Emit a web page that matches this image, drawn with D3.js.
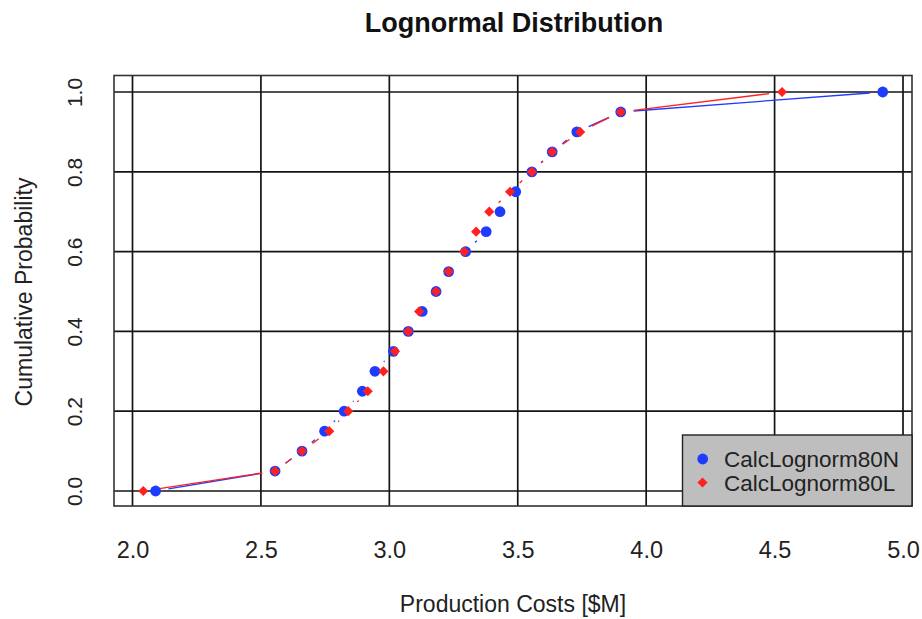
<!DOCTYPE html>
<html>
<head>
<meta charset="utf-8">
<script src="https://cdn.jsdelivr.net/npm/d3@7"></script>
<style>
  html, body { margin: 0; padding: 0; background: #fff; }
  svg { display: block; font-family: "Liberation Sans", Arial, Helvetica, sans-serif; }
</style>
</head>
<body>
<svg id="chart" width="922" height="619"></svg>
<script>
// ---- data ----
const probabilities = [0, 0.05, 0.10, 0.15, 0.20, 0.25, 0.30, 0.35, 0.40, 0.45, 0.50,
                       0.55, 0.60, 0.65, 0.70, 0.75, 0.80, 0.85, 0.90, 0.95, 1.00];
const costsN = [2.090, 2.555, 2.660, 2.748, 2.824, 2.895, 2.944, 3.016, 3.074, 3.128, 3.182,
                3.231, 3.297, 3.377, 3.431, 3.492, 3.555, 3.634, 3.730, 3.901, 4.921];
const costsL = [2.042, 2.555, 2.660, 2.766, 2.840, 2.916, 2.977, 3.022, 3.074, 3.116, 3.182,
                3.231, 3.292, 3.338, 3.389, 3.470, 3.555, 3.634, 3.743, 3.901, 4.529];
const seriesNames = ["CalcLognorm80N", "CalcLognorm80L"];
const xTicks = [2.0, 2.5, 3.0, 3.5, 4.0, 4.5, 5.0];
const yTicks = [0.0, 0.2, 0.4, 0.6, 0.8, 1.0];
const titleText = "Lognormal Distribution";
const xTitle = "Production Costs [$M]";
const yTitle = "Cumulative Probability";

// ---- layout ----
const svg = d3.select("#chart");
const box = { left: 114, right: 912, top: 75.5, bottom: 506 };
const x = d3.scaleLinear().domain([1.928, 5.035]).range([box.left, box.right]);
const y = d3.scaleLinear().domain([-0.0376, 1.0414]).range([box.bottom, box.top]);
const colN = "#1e3cff", colL = "#ff2020";
const gridCol = "#141414";

// grid
svg.append("g").selectAll("line.vx").data(xTicks).join("line")
  .attr("x1", d => x(d)).attr("x2", d => x(d))
  .attr("y1", box.top).attr("y2", box.bottom)
  .attr("stroke", gridCol).attr("stroke-width", 1.7);
svg.append("g").selectAll("line.hy").data(yTicks).join("line")
  .attr("y1", d => y(d)).attr("y2", d => y(d))
  .attr("x1", box.left).attr("x2", box.right)
  .attr("stroke", gridCol).attr("stroke-width", 1.7);

// frame
svg.append("rect").attr("x", box.left).attr("y", box.top)
  .attr("width", box.right - box.left).attr("height", box.bottom - box.top)
  .attr("fill", "none").attr("stroke", "#333").attr("stroke-width", 1.6);

// axes (labels only, R style)
const xAxis = d3.axisBottom(x).tickValues(xTicks).tickFormat(d3.format(".1f")).tickSize(0).tickPadding(0);
const gx = svg.append("g").attr("transform", `translate(0,${box.bottom})`).call(xAxis);
gx.select(".domain").remove();
gx.selectAll("text").attr("dy", null).attr("y", 51.7)
  .attr("font-size", 23.5).attr("fill", "#222").attr("font-family", null);

const yAxis = d3.axisLeft(y).tickValues(yTicks).tickFormat(d3.format(".1f")).tickSize(0).tickPadding(0);
const gy = svg.append("g").attr("transform", `translate(${box.left},0)`).call(yAxis);
gy.select(".domain").remove();
gy.selectAll(".tick text")
  .attr("x", null).attr("dy", null).attr("y", null)
  .attr("text-anchor", "middle")
  .attr("transform", `translate(${81.7 - box.left},0) rotate(-90)`)
  .attr("font-size", 21).attr("fill", "#222").attr("font-family", null);

// type "b" lines with gaps around points
const gap = 13;
function gappedSegments(xs) {
  const segs = [];
  for (let i = 0; i < xs.length - 1; i++) {
    const x0 = x(xs[i]), y0 = y(probabilities[i]);
    const x1 = x(xs[i + 1]), y1 = y(probabilities[i + 1]);
    const len = Math.hypot(x1 - x0, y1 - y0);
    if (len <= 2 * gap) continue;
    const ux = (x1 - x0) / len, uy = (y1 - y0) / len;
    segs.push([x0 + ux * gap, y0 + uy * gap, x1 - ux * gap, y1 - uy * gap]);
  }
  return segs;
}
function drawLines(xs, col) {
  svg.append("g").selectAll("line").data(gappedSegments(xs)).join("line")
    .attr("x1", d => d[0]).attr("y1", d => d[1])
    .attr("x2", d => d[2]).attr("y2", d => d[3])
    .attr("stroke", col).attr("stroke-width", 1.3);
}
drawLines(costsN, colN);
drawLines(costsL, colL);

// points
svg.append("g").selectAll("circle").data(costsN).join("circle")
  .attr("cx", d => x(d)).attr("cy", (d, i) => y(probabilities[i]))
  .attr("r", 5.4).attr("fill", colN);
const diamond = d3.symbol().type(d3.symbolDiamond2).size(66);
svg.append("g").selectAll("path").data(costsL).join("path")
  .attr("d", diamond)
  .attr("transform", (d, i) => `translate(${x(d)},${y(probabilities[i])})`)
  .attr("fill", colL);

// legend
const lg = svg.append("g");
lg.append("rect").attr("x", 682.5).attr("y", 435).attr("width", box.right - 682.5).attr("height", box.bottom - 435)
  .attr("fill", "#bebebe").attr("stroke", "#222").attr("stroke-width", 1.4);
lg.append("circle").attr("cx", 702.7).attr("cy", 459).attr("r", 5.4).attr("fill", colN);
lg.append("path").attr("d", diamond).attr("transform", "translate(702.5,482.5)").attr("fill", colL);
lg.selectAll("text").data(seriesNames).join("text")
  .attr("x", 724).attr("y", (d, i) => 466.7 + i * 24.3)
  .attr("font-size", 22.5).attr("fill", "#222").text(d => d);

// titles
svg.append("text").attr("x", 514).attr("y", 31.7).attr("text-anchor", "middle")
  .attr("font-size", 27).attr("font-weight", "bold").attr("fill", "#111").text(titleText);
svg.append("text").attr("x", 513).attr("y", 612).attr("text-anchor", "middle")
  .attr("font-size", 23).attr("fill", "#222").text(xTitle);
svg.append("text").attr("transform", "translate(31.5,292) rotate(-90)").attr("text-anchor", "middle")
  .attr("font-size", 23).attr("fill", "#222").text(yTitle);
</script>
</body>
</html>
